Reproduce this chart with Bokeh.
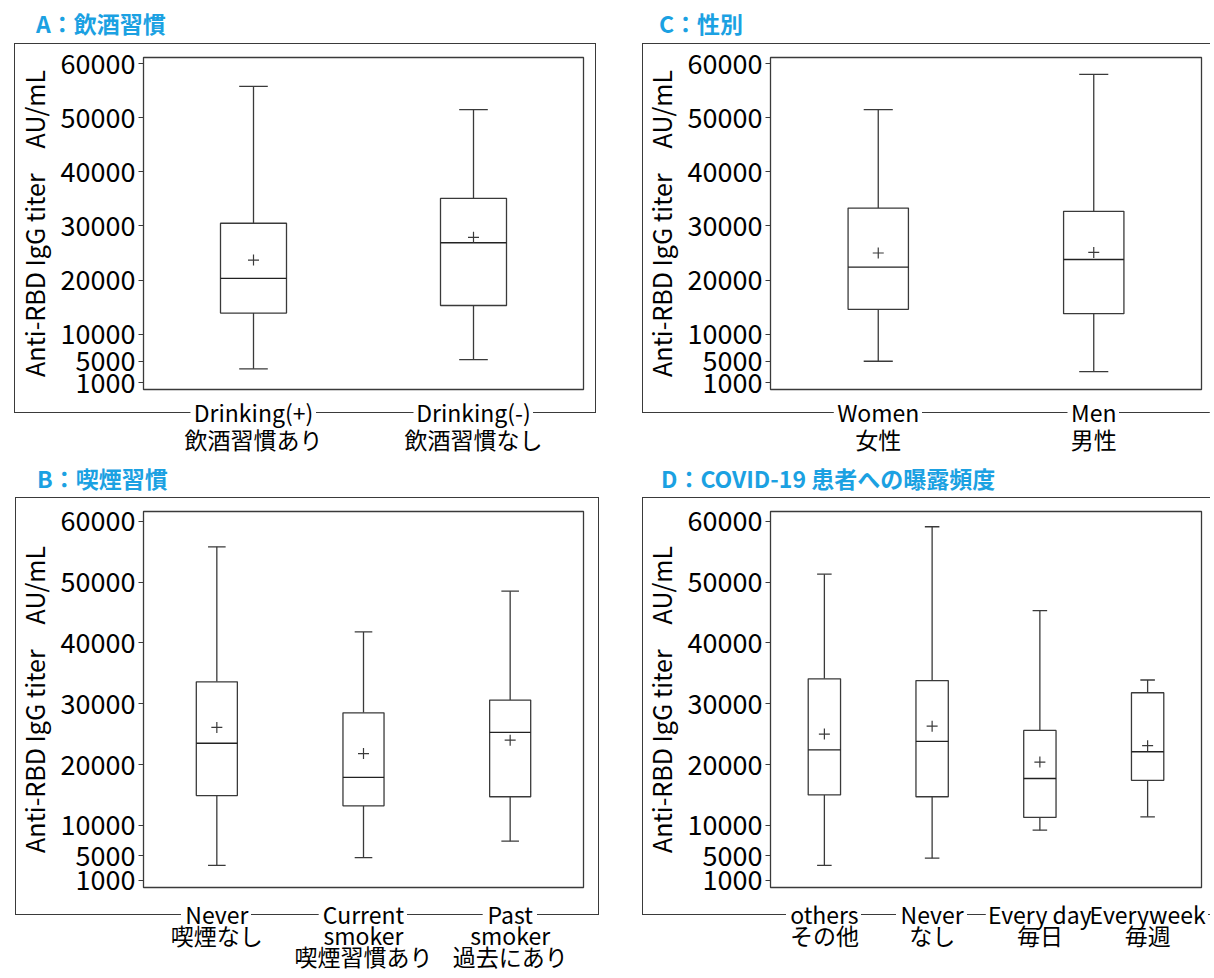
from bokeh.plotting import figure
from bokeh.models import (FactorRange, Range1d, FixedTicker, InlineStyleSheet,
                          BasicTickFormatter, ColumnDataSource, Div)
from bokeh.transform import dodge
from bokeh.layouts import column, row
from bokeh.embed import file_html
from bokeh.resources import INLINE

FONT = "Noto Sans CJK JP"
TITLE_COLOR = "#1BA1E2"
INK = "#3a3a3a"

y_ticks = [1000, 5000, 10000, 20000, 30000, 40000, 50000, 60000]
y_label = "Anti-RBD IgG titer\u3000AU/mL"

# ---- A: drinking habit
a_title = "A：飲酒習慣"
a_cats = ["Drinking(+)\n飲酒習慣あり", "Drinking(-)\n飲酒習慣なし"]
a_low = [3600, 5300]
a_q1 = [13900, 15300]
a_med = [20300, 26900]
a_q3 = [30500, 35100]
a_high = [55800, 51500]
a_mean = [23700, 27900]

# ---- B: smoking habit
b_title = "B：喫煙習慣"
b_cats = ["Never\n喫煙なし", "Current\nsmoker\n喫煙習慣あり", "Past\nsmoker\n過去にあり"]
b_low = [3400, 4700, 7400]
b_q1 = [14900, 13200, 14700]
b_med = [23500, 17900, 25300]
b_q3 = [33600, 28500, 30600]
b_high = [55800, 41800, 48500]
b_mean = [26100, 21800, 24000]

# ---- C: sex
c_title = "C：性別"
c_cats = ["Women\n女性", "Men\n男性"]
c_low = [5000, 3100]
c_q1 = [14600, 13800]
c_med = [22400, 23800]
c_q3 = [33300, 32700]
c_high = [51500, 58000]
c_mean = [25000, 25100]

# ---- D: exposure frequency
d_title = "D：COVID-19 患者への曝露頻度"
d_cats = ["others\nその他", "Never\nなし", "Every day\n毎日", "Everyweek\n毎週"]
d_low = [3400, 4600, 9200, 11400]
d_q1 = [15000, 14700, 11300, 17400]
d_med = [22400, 23800, 17700, 22100]
d_q3 = [34100, 33800, 25600, 31800]
d_high = [51300, 59100, 45300, 33900]
d_mean = [25000, 26300, 20400, 23100]

# approximate rendered width (px) of the first line of each tick label,
# used only to leave gaps in the decorative outer frame line
first_line_px = {"Drinking(+)": 117, "Drinking(-)": 112, "Women": 80,
                 "Men": 44, "Never": 62, "Current": 80, "Past": 46,
                 "others": 67, "Every day": 100, "Everyweek": 113}


def frame_css(l, t, r, b, open_right, centers, widths, pad=4):
    w, h = r - l, b - t
    right = "none" if open_right else f"1px solid {INK}"
    segs, x = [], l
    for c, lw_ in zip(centers, widths):
        a = c - lw_ / 2 - pad
        if a > x:
            segs.append((x, a))
        x = max(x, c + lw_ / 2 + pad)
    if x < r:
        segs.append((x, r))
    imgs = ", ".join([f"linear-gradient({INK}, {INK})"] * len(segs))
    sizes = ", ".join(f"{b_ - a_:.1f}px 1px" for a_, b_ in segs)
    poss = ", ".join(f"{a_ - l:.1f}px {h - 1}px" for a_, b_ in segs)
    return (":host { position: relative; }\n"
            ":host::before { content: ''; position: absolute; "
            f"left: {l}px; top: {t}px; width: {w}px; height: {h}px; "
            f"border-top: 1px solid {INK}; border-left: 1px solid {INK}; "
            f"border-bottom: none; border-right: {right}; "
            "box-sizing: border-box; pointer-events: none; "
            f"background-image: {imgs}; background-size: {sizes}; "
            f"background-position: {poss}; background-repeat: no-repeat; "
            "background-origin: border-box; background-clip: border-box; }")


def panel(title, cats, low, q1, med, q3, high, mean, *, width, height, mleft,
          mright, mtop, mbottom, yr, box_w, cap_w, outer, open_right,
          label_standoff, line_h, div_h, title_pad_left, title_pad_top):
    frame_w = width - mleft - mright
    n = len(cats)
    centers = [mleft + (i + 0.5) * frame_w / n for i in range(n)]
    widths = [first_line_px[c.split("\n")[0]] for c in cats]
    css = frame_css(*outer, open_right, centers, widths)

    xr = FactorRange(factors=cats, range_padding=0, factor_padding=0)
    p = figure(width=width, height=height, x_range=xr, y_range=Range1d(*yr),
               output_backend="svg", toolbar_location=None, title=None,
               min_border_left=mleft, min_border_right=mright,
               min_border_top=mtop, min_border_bottom=mbottom,
               border_fill_color=None, background_fill_color="white",
               stylesheets=[InlineStyleSheet(css=css)])
    src = ColumnDataSource(dict(cat=cats, low=low, q1=q1, med=med, q3=q3,
                                high=high, mean=mean))
    lw = 1.3
    p.segment(x0="cat", y0="q3", x1="cat", y1="high", source=src,
              line_color=INK, line_width=lw)
    p.segment(x0="cat", y0="q1", x1="cat", y1="low", source=src,
              line_color=INK, line_width=lw)
    for col in ("high", "low"):
        p.segment(x0=dodge("cat", -cap_w / 2, range=xr), y0=col,
                  x1=dodge("cat", cap_w / 2, range=xr), y1=col, source=src,
                  line_color=INK, line_width=lw)
    p.vbar(x="cat", bottom="q1", top="q3", width=box_w, source=src,
           fill_color="white", line_color=INK, line_width=lw)
    p.segment(x0=dodge("cat", -box_w / 2, range=xr), y0="med",
              x1=dodge("cat", box_w / 2, range=xr), y1="med", source=src,
              line_color="#222222", line_width=lw)
    p.scatter(x="cat", y="mean", source=src, marker="cross", size=11,
              line_color=INK, line_width=1.2)

    p.xgrid.grid_line_color = None
    p.ygrid.grid_line_color = None
    p.outline_line_color = INK
    p.outline_line_width = lw

    ya = p.yaxis[0]
    ya.ticker = FixedTicker(ticks=y_ticks)
    ya.formatter = BasicTickFormatter(use_scientific=False)
    ya.axis_label = y_label
    ya.axis_label_text_font = FONT
    ya.axis_label_text_font_size = "25px"
    ya.axis_label_text_font_style = "normal"
    ya.axis_label_text_color = "black"
    ya.axis_label_standoff = 6
    ya.major_label_text_font = FONT
    ya.major_label_text_font_size = "27px"
    ya.major_label_text_color = "black"
    ya.major_label_standoff = 3
    ya.major_tick_out = 5
    ya.major_tick_in = 0
    ya.major_tick_line_color = INK
    ya.minor_tick_line_color = None
    ya.axis_line_color = INK

    xa = p.xaxis[0]
    xa.axis_line_color = None
    xa.major_tick_line_color = None
    xa.major_tick_out = 0
    xa.major_tick_in = 0
    xa.major_label_text_font = FONT
    xa.major_label_text_font_size = "23px"
    xa.major_label_text_color = "black"
    xa.major_label_text_line_height = line_h
    xa.major_label_standoff = label_standoff

    head = Div(text=title, width=width, height=div_h, margin=0,
               styles={"font-family": FONT, "font-size": "23px",
                       "font-weight": "bold", "color": TITLE_COLOR,
                       "line-height": "30px", "white-space": "nowrap",
                       "padding-left": f"{title_pad_left}px",
                       "padding-top": f"{title_pad_top}px",
                       "box-sizing": "border-box"})
    return column(head, p, spacing=0)


row1 = dict(height=416, mtop=14, mbottom=70, yr=(-216, 61120),
            label_standoff=5, line_h=0.8, div_h=43, title_pad_top=8)
row2 = dict(height=479, mtop=14, mbottom=89, yr=(-224, 61610),
            label_standoff=9, line_h=0.62, div_h=38, title_pad_top=4)

pA = panel(a_title, a_cats, a_low, a_q1, a_med, a_q3, a_high, a_mean,
           width=620, mleft=143, mright=37, box_w=0.30, cap_w=0.13,
           outer=(14, 0, 596, 370), open_right=False, title_pad_left=36,
           **row1)
pC = panel(c_title, c_cats, c_low, c_q1, c_med, c_q3, c_high, c_mean,
           width=590, mleft=150, mright=9, box_w=0.28, cap_w=0.135,
           outer=(22, 0, 590, 370), open_right=True, title_pad_left=39,
           **row1)
pB = panel(b_title, b_cats, b_low, b_q1, b_med, b_q3, b_high, b_mean,
           width=620, mleft=143, mright=37, box_w=0.28, cap_w=0.12,
           outer=(15, 0, 599, 418), open_right=False, title_pad_left=37,
           **row2)
pD = panel(d_title, d_cats, d_low, d_q1, d_med, d_q3, d_high, d_mean,
           width=590, mleft=150, mright=9, box_w=0.30, cap_w=0.135,
           outer=(22, 0, 590, 418), open_right=True, title_pad_left=41,
           **row2)

layout = column(row(pA, pC, spacing=0), row(pB, pD, spacing=0), spacing=0)
open("out.html", "w").write(file_html(layout, INLINE))
